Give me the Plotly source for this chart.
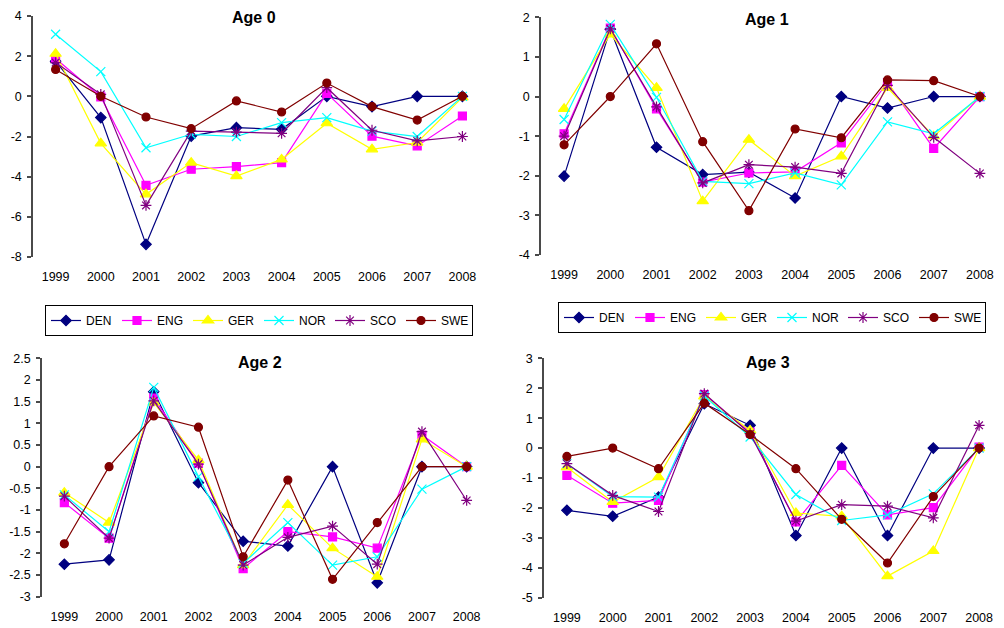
import plotly.graph_objects as go

# Yearly anomalies by country for four age groups
years = ["1999", "2000", "2001", "2002", "2003", "2004", "2005", "2006", "2007", "2008"]
countries = ["DEN", "ENG", "GER", "NOR", "SCO", "SWE"]

age0 = {
    "DEN": [1.75, -1.06, -7.37, -1.98, -1.56, -1.64, 0.0, -0.51, 0.0, 0.0],
    "ENG": [1.88, -0.03, -4.43, -3.63, -3.50, -3.30, 0.15, -1.98, -2.47, -0.98],
    "GER": [2.12, -2.34, -4.88, -3.30, -3.97, -3.14, -1.34, -2.64, -2.30, -0.05],
    "NOR": [3.09, 1.23, -2.56, -1.89, -2.00, -1.31, -1.06, -1.73, -2.00, 0.0],
    "SCO": [1.68, 0.10, -5.43, -1.73, -1.78, -1.84, 0.43, -1.69, -2.22, -2.00],
    "SWE": [1.34, 0.0, -1.03, -1.61, -0.23, -0.78, 0.66, -0.51, -1.18, 0.0],
}
age1 = {
    "DEN": [-2.01, 1.70, -1.28, -1.97, -1.91, -2.56, 0.0, -0.29, 0.0, 0.0],
    "ENG": [-0.94, 1.73, -0.31, -2.16, -1.93, -1.90, -1.17, 0.35, -1.31, 0.0],
    "GER": [-0.31, 1.57, 0.22, -2.64, -1.09, -2.01, -1.51, 0.22, -1.00, 0.0],
    "NOR": [-0.58, 1.82, -0.02, -2.14, -2.20, -1.93, -2.23, -0.64, -0.94, 0.0],
    "SCO": [-1.00, 1.71, -0.26, -2.18, -1.72, -1.78, -1.94, 0.28, -1.03, -1.94],
    "SWE": [-1.22, 0.0, 1.33, -1.14, -2.88, -0.82, -1.04, 0.42, 0.40, 0.0],
}
age2 = {
    "DEN": [-2.25, -2.15, 1.73, -0.37, -1.72, -1.83, 0.0, -2.68, 0.0, 0.0],
    "ENG": [-0.83, -1.65, 1.58, 0.08, -2.35, -1.50, -1.62, -1.88, 0.73, 0.0],
    "GER": [-0.60, -1.29, 1.48, 0.15, -2.27, -0.88, -1.88, -2.54, 0.63, 0.0],
    "NOR": [-0.65, -1.50, 1.83, -0.23, -2.23, -1.29, -2.27, -2.08, -0.52, 0.0],
    "SCO": [-0.68, -1.65, 1.52, 0.06, -2.27, -1.63, -1.37, -2.25, 0.81, -0.78],
    "SWE": [-1.78, 0.0, 1.17, 0.91, -2.08, -0.31, -2.60, -1.29, 0.0, 0.0],
}
age3 = {
    "DEN": [-2.08, -2.28, -1.64, 1.48, 0.76, -2.92, 0.0, -2.92, 0.0, 0.0],
    "ENG": [-0.91, -1.84, -1.75, 1.79, 0.53, -2.47, -0.58, -2.23, -1.99, 0.03],
    "GER": [-0.64, -1.80, -0.97, 1.73, 0.59, -2.17, -2.28, -4.28, -3.44, 0.0],
    "NOR": [-0.52, -1.62, -1.64, 1.74, 0.37, -1.55, -2.42, -2.23, -1.53, 0.0],
    "SCO": [-0.52, -1.58, -2.12, 1.82, 0.48, -2.44, -1.89, -1.94, -2.33, 0.76],
    "SWE": [-0.28, 0.0, -0.69, 1.50, 0.45, -0.69, -2.38, -3.84, -1.62, 0.0],
}

titles = ["Age 0", "Age 1", "Age 2", "Age 3"]
panel_data = [age0, age1, age2, age3]

# y-axis ticks per panel
yticks0 = [4, 2, 0, -2, -4, -6, -8]
yticks1 = [2, 1, 0, -1, -2, -3, -4]
yticks2 = [2.5, 2, 1.5, 1, 0.5, 0, -0.5, -1, -1.5, -2, -2.5, -3]
yticks3 = [3, 2, 1, 0, -1, -2, -3, -4, -5]
ytick_sets = [yticks0, yticks1, yticks2, yticks3]

# series styles
colors = {"DEN": "#000080", "ENG": "#FF00FF", "GER": "#FFFF00",
          "NOR": "#00FFFF", "SCO": "#800080", "SWE": "#800000"}
symbols = {"DEN": "diamond", "ENG": "square", "GER": "triangle-up",
           "NOR": "x-thin-open", "SCO": "asterisk-open", "SWE": "circle"}
sizes = {"DEN": 8, "ENG": 8, "GER": 10, "NOR": 9, "SCO": 9, "SWE": 8}

W, H = 1004, 628
# plot areas in pixels: (left, right, top, bottom)
boxes = [(33, 485, 16, 257), (541, 1003, 17.3, 255),
         (42, 489, 358.3, 596.7), (544, 1002, 358.3, 597.7)]
title_y = [18, 20, 362, 362]

FONT = "Arial, Liberation Sans, sans-serif"
AXC = "#4a4a4a"

fig = go.Figure()
layout = dict(
    template="none",
    width=W, height=H, margin=dict(l=0, r=0, t=0, b=0, pad=0),
    paper_bgcolor="white", plot_bgcolor="rgba(0,0,0,0)",
    font=dict(family=FONT, size=12, color="black"),
    annotations=[],
)

for i, (data, title, yt, box) in enumerate(zip(panel_data, titles, ytick_sets, boxes)):
    n = i + 1
    xs = "x" if n == 1 else f"x{n}"
    ys = "y" if n == 1 else f"y{n}"
    xk = "xaxis" if n == 1 else f"xaxis{n}"
    yk = "yaxis" if n == 1 else f"yaxis{n}"
    l, r, t, b = box
    xdom = [l / W, r / W]
    ydom = [1 - b / H, 1 - t / H]
    ymin, ymax = min(yt), max(yt)

    for c in countries:
        fig.add_trace(go.Scatter(
            x=years, y=data[c], name=c, mode="lines+markers",
            xaxis=xs, yaxis=ys,
            line=dict(color=colors[c], width=1.2),
            marker=dict(symbol=symbols[c], size=sizes[c], color=colors[c],
                        line=dict(color=colors[c], width=1.2)),
            showlegend=(n in (1, 2)),
            legend="legend" if n == 1 else "legend2",
        ))

    layout[xk] = dict(
        domain=xdom, anchor=ys, type="category", categoryorder="array",
        categoryarray=years, range=[-0.5, len(years) - 0.5],
        showline=False, showgrid=False, zeroline=False, automargin=False,
        ticks="outside", ticklen=8, tickcolor="rgba(0,0,0,0)",
        tickfont=dict(family=FONT, size=12.5, color="black"),
    )
    layout[yk] = dict(
        domain=ydom, anchor=xs, range=[ymin, ymax], automargin=False,
        tickvals=yt, ticktext=["%g" % v for v in yt],
        showline=True, linecolor=AXC, linewidth=1.5,
        ticks="outside", ticklen=4, tickcolor=AXC, tickwidth=1.5,
        showgrid=False, zeroline=False, ticklabelstandoff=3,
        tickfont=dict(family=FONT, size=12.5, color="black"),
    )

    # horizontal category axis crossing at zero, with ticks between categories
    zp = ydom[0] + (0 - ymin) / (ymax - ymin) * (ydom[1] - ydom[0])
    m = n + 4
    layout[f"xaxis{m}"] = dict(
        domain=xdom, anchor=f"y{m}", range=[-0.5, len(years) - 0.5],
        tick0=-0.5, dtick=1, ticks="outside", ticklen=3, tickcolor=AXC, tickwidth=1.5,
        showticklabels=False, showline=True, linecolor=AXC, linewidth=1.2,
        showgrid=False, zeroline=False, automargin=False,
    )
    layout[f"yaxis{m}"] = dict(
        domain=[zp, zp + 0.001], anchor=f"x{m}", range=[0, 1],
        showline=False, showticklabels=False, ticks="",
        showgrid=False, zeroline=False, automargin=False,
    )

    layout["annotations"].append(dict(
        text=f"<b>{title}</b>", xref="paper", yref="paper",
        x=(xdom[0] + xdom[1]) / 2 - 0.005, y=1 - title_y[i] / H,
        xanchor="center", yanchor="middle", showarrow=False,
        font=dict(family=FONT, size=16, color="black"),
    ))

leg_common = dict(
    orientation="h", bordercolor="black", borderwidth=1, bgcolor="white",
    font=dict(family=FONT, size=12, color="black"),
    entrywidth=26, entrywidthmode="pixels", xanchor="left", yanchor="top",
    itemclick=False,
)
layout["legend"] = dict(leg_common, x=45 / W, y=1 - 305 / H)
layout["legend2"] = dict(leg_common, x=558 / W, y=1 - 302 / H)

fig.update_layout(**layout)
fig.write_html("out.html")
